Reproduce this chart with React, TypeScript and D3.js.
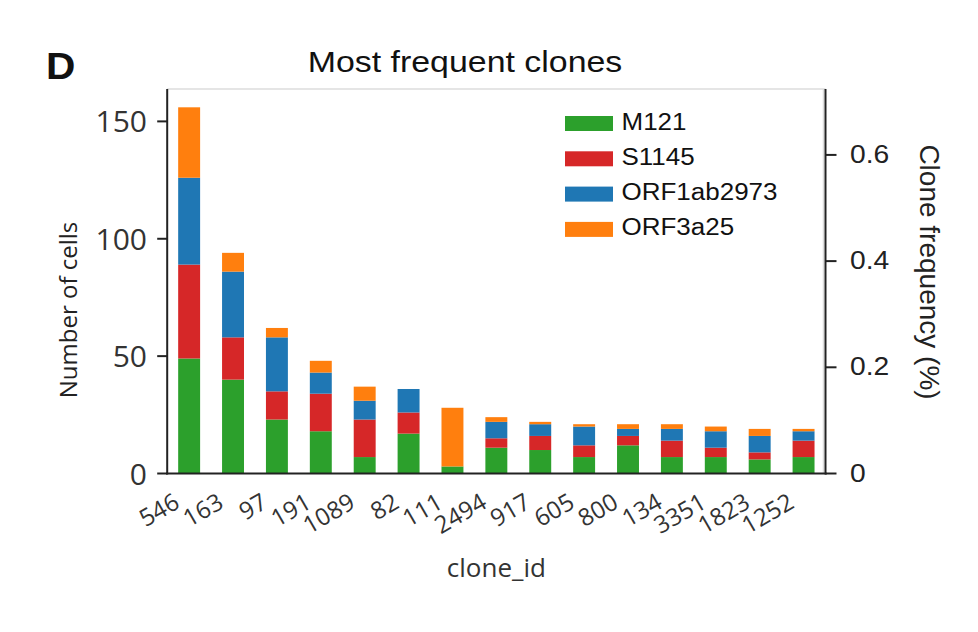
import React, { useMemo } from 'react';
import * as d3 from 'd3';

const cloneIds = ['546', '163', '97', '191', '1089', '82', '111', '2494', '917', '605', '800', '134', '3351', '1823', '1252'];
const seriesNames = ['M121', 'S1145', 'ORF1ab2973', 'ORF3a25'];
const m121 = [49, 40, 23, 18, 7, 17, 3, 11, 10, 7, 12, 7, 7, 6, 7];
const s1145 = [40, 18, 12, 16, 16, 9, 0, 4, 6, 5, 4, 7, 4, 3, 7];
const orf1ab2973 = [37, 28, 23, 9, 8, 10, 0, 7, 5, 8, 3, 5, 7, 7, 4];
const orf3a25 = [30, 8, 4, 5, 6, 0, 25, 2, 1, 1, 2, 2, 2, 3, 1];
const seriesColors = ['#2ca02c', '#d62728', '#1f77b4', '#ff7f0e'];
const leftTicks = [0, 50, 100, 150];
const rightTicks = [0, 0.2, 0.4, 0.6];
const totalCells = 22620;

const W = 978;
const H = 632;
const plot = { left: 167.2, right: 825.5, top: 89, bottom: 473.5 };
const SANS = '"Liberation Sans", Arial, sans-serif';
const OPEN = '"Open Sans", "DejaVu Sans", sans-serif';
const STRETCH = 1.13;

type Row = { id: string; [k: string]: number | string };

const SText: React.FC<{
  x: number;
  y: number;
  sx?: number;
  rotate?: number;
  children: React.ReactNode;
  [k: string]: any;
}> = ({ x, y, sx = 1, rotate = 0, children, ...rest }) => (
  <text transform={`translate(${x},${y}) scale(${sx},1) rotate(${rotate})`} {...rest}>
    {children}
  </text>
);

export default function App() {
  const rows: Row[] = useMemo(
    () =>
      cloneIds.map((id, i) => ({
        id,
        M121: m121[i],
        S1145: s1145[i],
        ORF1ab2973: orf1ab2973[i],
        ORF3a25: orf3a25[i],
      })),
    []
  );

  const stacked = useMemo(
    () => d3.stack<Row>().keys(seriesNames).value((d, k) => d[k] as number)(rows),
    [rows]
  );

  const maxTotal = d3.max(stacked[stacked.length - 1], d => d[1]) || 1;
  const yMax = maxTotal * 1.05;

  const x = d3.scaleBand<string>()
    .domain(cloneIds)
    .range([plot.left, plot.right])
    .paddingInner(0.5)
    .paddingOuter(0.25);

  const y = d3.scaleLinear().domain([0, yMax]).range([plot.bottom, plot.top]);
  const yRight = d3.scaleLinear()
    .domain([0, (yMax / totalCells) * 100])
    .range([plot.bottom, plot.top]);

  const fmtRight = (v: number) => (v === 0 ? '0' : d3.format('.1f')(v));

  return (
    <div style={{ position: 'absolute', left: 0, top: 0 }}>
      <svg width={W} height={H} viewBox={`0 0 ${W} ${H}`} style={{ display: 'block', background: '#fff' }}>
        {/* panel letter and title */}
        <SText x={46} y={79} sx={STRETCH} fontFamily={SANS} fontWeight="bold" fontSize={36} fill="#111">
          D
        </SText>
        <SText x={465} y={72} sx={STRETCH} fontFamily={SANS} fontSize={30} fill="#111" textAnchor="middle">
          Most frequent clones
        </SText>

        {/* bars */}
        {stacked.map((layer, si) => (
          <g key={layer.key} fill={seriesColors[si]}>
            {layer.map((d, i) => {
              const h = y(d[0]) - y(d[1]);
              if (h <= 0) return null;
              return (
                <rect
                  key={i}
                  x={x(cloneIds[i])}
                  y={y(d[1])}
                  width={x.bandwidth()}
                  height={h}
                />
              );
            })}
          </g>
        ))}

        {/* spines */}
        <line x1={plot.left} y1={plot.top} x2={plot.right} y2={plot.top} stroke="#dcdcdc" strokeWidth={1.5} />
        <line x1={plot.right - 2} y1={plot.top} x2={plot.right - 2} y2={plot.bottom} stroke="#dcdcdc" strokeWidth={1.5} />
        <line x1={plot.left} y1={plot.top} x2={plot.left} y2={plot.bottom + 1} stroke="#222" strokeWidth={2} />
        <line x1={plot.left - 1} y1={plot.bottom} x2={plot.right + 1} y2={plot.bottom} stroke="#222" strokeWidth={2} />
        <line x1={plot.right} y1={plot.top} x2={plot.right} y2={plot.bottom + 1} stroke="#222" strokeWidth={2} />

        {/* left axis */}
        {leftTicks.map(t => (
          <g key={t}>
            <line x1={plot.left - 10} x2={plot.left} y1={y(t)} y2={y(t)} stroke="#222" strokeWidth={2} />
            <text x={147} y={y(t) + 11} textAnchor="end" fontFamily={OPEN} fontSize={30} fill="#333">
              {t}
            </text>
          </g>
        ))}
        <SText x={77} y={310} rotate={-90} fontFamily={OPEN} fontSize={24} fill="#222" textAnchor="middle">
          Number of cells
        </SText>

        {/* right axis */}
        {rightTicks.map(t => (
          <g key={t}>
            <line x1={plot.right} x2={plot.right + 11} y1={yRight(t)} y2={yRight(t)} stroke="#222" strokeWidth={2} />
            <SText x={850} y={yRight(t) + 8} sx={STRETCH} fontFamily={SANS} fontSize={25} fill="#222">
              {fmtRight(t)}
            </SText>
          </g>
        ))}
        <SText x={920} y={272} rotate={90} fontFamily={SANS} fontSize={28} fill="#222" textAnchor="middle">
          Clone frequency (%)
        </SText>

        {/* x axis labels */}
        {cloneIds.map(id => {
          const cx = (x(id) || 0) + x.bandwidth() / 2;
          return (
            <SText
              key={id}
              x={cx - 8}
              y={507}
              rotate={-30}
              fontFamily={OPEN}
              fontSize={24}
              fill="#333"
              textAnchor="end"
            >
              {id}
            </SText>
          );
        })}
        <text x={(plot.left + plot.right) / 2} y={577} textAnchor="middle" fontFamily={OPEN} fontSize={26} fill="#333">
          clone_id
        </text>

        {/* legend */}
        {seriesNames.map((name, i) => {
          const top = 116 + i * 35.3;
          return (
            <g key={name}>
              <rect x={565} y={top} width={48} height={15} fill={seriesColors[i]} />
              <SText x={621.5} y={top + 13.5} sx={STRETCH} fontFamily={SANS} fontSize={23} fill="#111">
                {name}
              </SText>
            </g>
          );
        })}
      </svg>
    </div>
  );
}
